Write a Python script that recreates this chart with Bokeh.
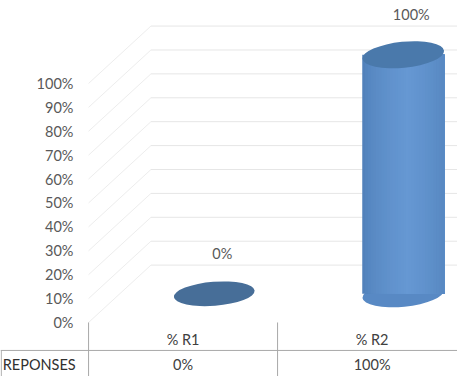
from bokeh.plotting import figure
from bokeh.models import Range1d
from bokeh.core.properties import value
from bokeh.embed import file_html
from bokeh.resources import INLINE

# ---- data ----
categories = ["% R1", "% R2"]
values = [0, 100]
value_labels = ["0%", "100%"]
row_label = "REPONSES"
y_ticks = [0, 10, 20, 30, 40, 50, 60, 70, 80, 90, 100]
y_tick_labels = ["0%", "10%", "20%", "30%", "40%", "50%", "60%", "70%", "80%", "90%", "100%"]

# ---- style / geometry ----
W, H = 457, 376
x_lo, x_hi = -0.466, 1.952
y_lo, y_hi = -22.6, 134.7
depth_x, depth_y = 0.33, 24.0
bar_w = 0.434
ell_w_px, ell_h_px = 82, 26
tilt = 0.1
FONT = value("Lato")
FS = "14.5px"
TXT = "#595959"

p = figure(width=W, height=H, x_range=Range1d(x_lo, x_hi), y_range=Range1d(y_lo, y_hi),
           output_backend="svg", toolbar_location=None, x_axis_type=None, y_axis_type=None,
           min_border=0, outline_line_color=None, background_fill_color="white",
           border_fill_color="white")
p.grid.visible = False

# 3D walls gridlines
side_xs, side_ys, back_xs, back_ys = [], [], [], []
for t in y_ticks:
    side_xs.append([0, depth_x]); side_ys.append([t, t + depth_y])
    back_xs.append([depth_x, x_hi]); back_ys.append([t + depth_y, t + depth_y])
p.multi_line(side_xs, side_ys, line_color="#ededed", line_width=1)
p.multi_line(back_xs, back_ys, line_color="#e6e6e6", line_width=1)

# y tick labels
p.text(x=[-0.08] * len(y_ticks), y=y_ticks, text=y_tick_labels, text_font=FONT,
       text_font_size=FS, text_color=TXT, text_align="right", text_baseline="middle")

# cylinders
cx = [i + 0.5 + depth_x / 2 for i in range(len(categories))]
base = depth_y / 2


def mix(c1, c2, t):
    a = [int(c1[k:k + 2], 16) for k in (1, 3, 5)]
    b = [int(c2[k:k + 2], 16) for k in (1, 3, 5)]
    return "#%02x%02x%02x" % tuple(round(a[j] + (b[j] - a[j]) * t) for j in range(3))


n_strips = 30
edge_c, mid_c = "#4f7fb8", "#6698d3"
for i, v in enumerate(values):
    top = v + base
    right_edge = cx[i] + bar_w / 2
    if v > 0:
        p.ellipse(x=[cx[i]], y=[base], width=[ell_w_px], height=[ell_h_px], angle=tilt,
                  width_units="screen", height_units="screen",
                  fill_color="#5889c4", line_color=None)
        for k in range(n_strips):
            f0 = k / n_strips
            fm = (k + 0.5) / n_strips
            t = 1 - abs(fm - 0.55) / 0.55
            c = mix(edge_c, mid_c, max(0.0, min(1.0, t)) ** 0.6)
            l = cx[i] - bar_w / 2 + f0 * bar_w
            p.quad(left=[l], right=[right_edge], bottom=[base], top=[top], fill_color=c,
                   line_color=None)
        p.ellipse(x=[cx[i]], y=[top], width=[ell_w_px], height=[ell_h_px], angle=tilt,
                  width_units="screen", height_units="screen",
                  fill_color="#4a79ab", line_color=None)
    else:
        p.ellipse(x=[cx[i]], y=[top], width=[ell_w_px - 1], height=[ell_h_px - 2], angle=tilt * 0.8,
                  width_units="screen", height_units="screen",
                  fill_color="#476e98", line_color=None)

# value labels
p.text(x=cx, y=[v + base + 17 for v in values], text=value_labels, text_font=FONT,
       text_font_size=FS, text_color=TXT, text_align="center", text_baseline="middle",
       x_offset=8)

# data table
tbl = "#a8a8a8"
p.segment(x0=[x_lo], y0=[-11.7], x1=[x_hi], y1=[-11.7], line_color=tbl, line_width=1)
p.segment(x0=[0, 1], y0=[0, 0], x1=[0, 1], y1=[y_lo, y_lo], line_color=tbl, line_width=1)
p.segment(x0=[x_lo + 0.004], y0=[-11.7], x1=[x_lo + 0.004], y1=[y_lo], line_color=tbl, line_width=1)

cat_x = [i + 0.5 for i in range(len(categories))]
p.text(x=cat_x, y=[-7.1] * len(categories), text=categories, text_font=FONT,
       text_font_size=FS, text_color="#404040", text_align="center", text_baseline="middle")
p.text(x=cat_x, y=[-17.6] * len(categories), text=value_labels, text_font=FONT,
       text_font_size=FS, text_color="#404040", text_align="center", text_baseline="middle")
p.text(x=[x_lo + 0.012], y=[-17.6], text=[row_label], text_font=FONT,
       text_font_size=FS, text_color="#303030", text_align="left", text_baseline="middle")

open("out.html", "w").write(file_html(p, INLINE))
